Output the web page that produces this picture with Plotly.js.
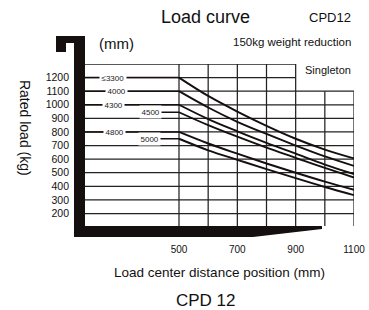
<!DOCTYPE html>
<html>
<head>
<meta charset="utf-8">
<script src="https://cdn.plot.ly/plotly-3.0.1.min.js"></script>
<style>html,body{margin:0;padding:0;background:#fff;}#chart{width:369px;height:310px;}</style>
</head>
<body>
<div id="chart"></div>
<script>
// ---- data ----
const distances = [500, 600, 700, 800, 900, 1000, 1100];
const seriesNames = ['≤3300', '4000', '4300', '4500', '4800', '5000'];
const load3300 = [1200, 1065, 950, 845, 750, 670, 605];
const load4000 = [1100, 980, 875, 785, 700, 620, 550];
const load4300 = [1000, 895, 805, 720, 640, 560, 490];
const load4500 = [945, 850, 765, 685, 610, 535, 465];
const load4800 = [800, 715, 640, 568, 500, 435, 375];
const load5000 = [750, 665, 595, 527, 460, 395, 335];
const xTicks = [500, 700, 900, 1100];
const yTicks = [200, 300, 400, 500, 600, 700, 800, 900, 1000, 1100, 1200];
const gridX = [500, 600, 700, 800, 900, 1000, 1100];
const gridY = [200, 300, 400, 500, 600, 700, 800, 900, 1000, 1100, 1200, 1300];

const allLoads = [load3300, load4000, load4300, load4500, load4800, load5000];

// ---- layout helpers ----
const X0 = 177.7, X1 = 1100, Y0 = 108, Y1 = 1300;
const labelX = [275, 284, 276, 401, 280, 400];
const leadStart = [X0, X0, X0, 400, X0, 400];
const FONT = 'Liberation Sans, Arial, sans-serif';
const INK = '#150f0f';

const traces = [];
allLoads.forEach((vals, i) => {
  traces.push({
    x: distances, y: vals, type: 'scatter', mode: 'lines',
    line: {color: INK, width: 1.9, shape: 'spline', smoothing: 1},
    hoverinfo: 'skip', showlegend: false, name: seriesNames[i]
  });
  traces.push({
    x: [leadStart[i], distances[0]], y: [vals[0], vals[0]], type: 'scatter', mode: 'lines',
    line: {color: INK, width: 1.5}, hoverinfo: 'skip', showlegend: false
  });
});

const shapes = [];
gridY.forEach(v => {
  const right = v > 1100 ? 900 : 1100;
  shapes.push({type: 'line', xref: 'x', yref: 'y', x0: X0, x1: right, y0: v, y1: v,
    line: {color: '#222', width: 1.25}, layer: 'below'});
});
gridX.forEach(v => {
  const top = v > 900 ? 1100 : 1300;
  shapes.push({type: 'line', xref: 'x', yref: 'y', x0: v, x1: v, y0: Y0, y1: top,
    line: {color: '#222', width: 1.25}, layer: 'below'});
});
// forklift-shaped black frame
const blk = {color: INK, width: 0};
shapes.push({type: 'rect', xref: 'paper', yref: 'paper', x0: -0.0409, x1: 0, y0: -0.0679, y1: 1.1728, fillcolor: INK, line: blk});
shapes.push({type: 'rect', xref: 'paper', yref: 'paper', x0: -0.1078, x1: 0, y0: 1.1296, y1: 1.1728, fillcolor: INK, line: blk});
shapes.push({type: 'rect', xref: 'paper', yref: 'paper', x0: -0.1078, x1: -0.0706, y0: 1.074, y1: 1.1728, fillcolor: INK, line: blk});
shapes.push({type: 'path', xref: 'paper', yref: 'paper',
  path: 'M -0.0409 0 L 0.881 0 L 0.881 -0.0185 L 0.6245 -0.0679 L -0.0409 -0.0679 Z',
  fillcolor: INK, line: blk});

const annotations = [];
seriesNames.forEach((n, i) => {
  annotations.push({x: labelX[i], y: allLoads[i][0], xref: 'x', yref: 'y', text: n,
    showarrow: false, bgcolor: '#ffffff', borderpad: 1.5,
    font: {family: FONT, size: 8, color: '#222'}});
});
const txt = (text, x, y, size, xanchor, extra) => Object.assign({
  text, x, y, xref: 'paper', yref: 'paper', showarrow: false, xanchor: xanchor || 'center', yanchor: 'middle',
  font: {family: FONT, size, color: '#111'}}, extra || {});
annotations.push(txt('Load curve', 0.4498, 1.290, 18));
annotations.push(txt('CPD12', 0.9963, 1.290, 13, 'right'));
annotations.push(txt('(mm)', 0.0446, 1.1296, 15, 'left'));
annotations.push(txt('150kg weight reduction', 0.9963, 1.136, 11.5, 'right'));
annotations.push(txt('Singleton', 0.9963, 0.963, 11, 'right'));
annotations.push(txt('Rated load (kg)', -0.223, 0.605, 14, 'center', {textangle: 90}));
annotations.push(txt('CPD 12', 0.4498, -0.4626, 17));

const layout = {
  width: 369, height: 310,
  margin: {l: 85, r: 15, t: 64, b: 84},
  paper_bgcolor: '#fff', plot_bgcolor: '#fff',
  showlegend: false,
  xaxis: {range: [X0, X1], tickvals: xTicks, ticktext: xTicks.map(String), showgrid: false, zeroline: false,
    showline: false, ticks: '', ticklabelstandoff: 16, tickfont: {family: FONT, size: 10, color: '#111'},
    title: {text: 'Load center distance position (mm)', font: {family: FONT, size: 13.5, color: '#111'}, standoff: 13},
    fixedrange: true},
  yaxis: {range: [Y0, Y1], tickvals: yTicks, ticktext: yTicks.map(String), showgrid: false, zeroline: false,
    showline: false, ticks: '', ticklabelstandoff: 15, tickfont: {family: FONT, size: 10.5, color: '#111'},
    fixedrange: true},
  shapes, annotations
};
Plotly.newPlot('chart', traces, layout, {displayModeBar: false, staticPlot: true});
</script>
</body>
</html>
